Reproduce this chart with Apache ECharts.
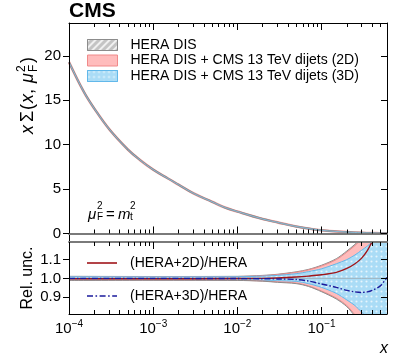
<!DOCTYPE html>
<html>
<head>
<meta charset="utf-8">
<script src="https://cdn.jsdelivr.net/npm/echarts@6/dist/echarts.min.js"></script>
<style>
  html, body { margin: 0; padding: 0; background: #fff; }
  #chart { width: 408px; height: 363px; }
</style>
</head>
<body>
<div id="chart"></div>
<script>
// top panel: x*Sigma(x, muF^2 = mt^2)
const xTop = [1e-4, 1.5e-4, 2e-4, 3e-4, 5e-4, 7e-4, 1e-3, 1.5e-3, 2e-3, 3e-3, 5e-3, 7e-3, 1e-2, 2e-2, 3e-2, 5e-2, 0.1, 0.2, 0.3, 0.45, 0.6]
const sigmaHera = [19.3, 15.95, 14.06, 11.75, 9.46, 8.26, 7.19, 6.19, 5.5, 4.53, 3.57, 2.95, 2.47, 1.63, 1.25, 0.79, 0.36, 0.16, 0.08, 0.04, 0.02]
const sigma2D = [19.3, 15.95, 14.06, 11.75, 9.46, 8.26, 7.19, 6.19, 5.5, 4.53, 3.57, 2.95, 2.47, 1.63, 1.25, 0.79, 0.36, 0.16, 0.08, 0.04, 0.02]
const sigma3D = [19.3, 15.95, 14.06, 11.75, 9.46, 8.26, 7.19, 6.19, 5.5, 4.53, 3.57, 2.95, 2.47, 1.63, 1.25, 0.79, 0.36, 0.16, 0.08, 0.04, 0.02]

// ratio panel
const xRatio = [1e-4, 1e-3, 0.01, 0.02, 0.03, 0.05, 0.07, 0.1, 0.15, 0.2, 0.25, 0.3, 0.35, 0.4, 0.5, 0.6]
const heraUp = [1.011, 1.010, 1.011, 1.016, 1.022, 1.035, 1.048, 1.070, 1.105, 1.146, 1.182, 1.218, 1.25, 1.29, 1.37, 1.47]
const heraDn = [0.989, 0.990, 0.989, 0.985, 0.979, 0.972, 0.957, 0.929, 0.890, 0.849, 0.798, 0.752, 0.71, 0.67, 0.59, 0.51]
const up2D = [1.010, 1.009, 1.010, 1.014, 1.020, 1.032, 1.045, 1.066, 1.100, 1.140, 1.175, 1.21, 1.24, 1.28, 1.36, 1.45]
const dn2D = [0.990, 0.991, 0.990, 0.986, 0.981, 0.975, 0.960, 0.933, 0.895, 0.855, 0.805, 0.76, 0.72, 0.68, 0.60, 0.52]
const up3D = [1.009, 1.008, 1.009, 1.012, 1.016, 1.025, 1.036, 1.051, 1.078, 1.100, 1.125, 1.150, 1.172, 1.195, 1.24, 1.28]
const dn3D = [0.991, 0.992, 0.991, 0.989, 0.987, 0.984, 0.972, 0.952, 0.920, 0.885, 0.855, 0.820, 0.79, 0.76, 0.70, 0.65]
const heraRatio = [1, 1, 1, 1, 1, 1, 1, 1, 1, 1, 1, 1, 1, 1, 1, 1]
const ratio2D = [0.998, 0.998, 0.999, 1.000, 1.002, 1.007, 1.012, 1.019, 1.032, 1.053, 1.078, 1.108, 1.148, 1.196, 1.27, 1.35]
const ratio3D = [1.000, 1.000, 0.999, 0.998, 0.997, 0.994, 0.986, 0.970, 0.952, 0.936, 0.928, 0.925, 0.928, 0.936, 0.960, 1.005]

const yTopTicks = [0, 5, 10, 15, 20]
const yRatioTicks = [0.9, 1.0, 1.1]
const xMajor = [1e-4, 1e-3, 1e-2, 1e-1]

const FONT = 'Liberation Sans, Arial, Helvetica, sans-serif'
const X_MIN = 1e-4
const X_MAX = 0.6

const xMinor = []
xMajor.forEach(d => {
  for (let k = 2; k <= 9; k++) {
    if (k * d <= X_MAX) xMinor.push(+(k * d).toPrecision(3))
  }
})

const names = {
  hera: 'HERA DIS',
  d2: 'HERA DIS + CMS 13 TeV dijets (2D)',
  d3: 'HERA DIS + CMS 13 TeV dijets (3D)',
  r2: '(HERA+2D)/HERA',
  r3: '(HERA+3D)/HERA'
}

const hatch = { symbol: 'rect', color: 'rgba(255,255,255,0.75)', dashArrayX: [1, 0], dashArrayY: [2, 3], rotation: -Math.PI / 4 }
const dots = { symbol: 'circle', symbolSize: 0.7, color: 'rgba(255,255,255,0.7)', dashArrayX: [3, 2], dashArrayY: [3, 2] }
const style = {
  hera: { fill: '#c4c4c4', edge: '#8c8c8c', decal: hatch },
  d2: { fill: '#ffbcbc', edge: '#f08a8a', decal: null },
  d3: { fill: '#aadcf6', edge: '#62b8ea', decal: dots },
  white: { fill: '#ffffff', decal: null }
}

const zip = (xs, ys) => xs.map((x, i) => [x, ys[i]])

function xAxis (grid, pos, ticks, len, line, labels) {
  return {
    type: 'log',
    logBase: 10,
    min: X_MIN,
    max: X_MAX,
    gridIndex: grid,
    position: pos,
    z: 5,
    axisLine: { show: !!line, lineStyle: line || {} },
    axisTick: { show: true, inside: true, length: len, customValues: ticks, lineStyle: { color: '#000', width: 1 } },
    axisLabel: labels ? {
      show: true,
      customValues: xMajor,
      margin: 5,
      formatter: v => '{b|10}{s|\u2212' + Math.round(-Math.log10(v)) + '}',
      rich: {
        b: { fontSize: 15, fontFamily: FONT, color: '#000' },
        s: { fontSize: 10, fontFamily: FONT, color: '#000', verticalAlign: 'bottom', padding: [0, 0, 9, 0] }
      }
    } : { show: false },
    splitLine: { show: false }
  }
}

function yAxis (grid, pos, min, max, ticks, labels) {
  return {
    type: 'value',
    gridIndex: grid,
    position: pos,
    min,
    max,
    z: 5,
    axisLine: { show: true, lineStyle: { color: '#000', width: 1 } },
    axisTick: { show: true, inside: pos === 'right', length: 6, customValues: ticks, lineStyle: { color: '#000' } },
    axisLabel: labels ? {
      show: true,
      customValues: ticks,
      margin: 8,
      fontSize: 15,
      fontFamily: FONT,
      color: '#000',
      formatter: labels
    } : { show: false },
    splitLine: { show: false }
  }
}

const sep = { color: '#7a7a7a', width: 2 }
const frame = { color: '#000', width: 1 }

// each band edge is filled down to the axis bottom; nested bands are layered
// from the outside in, the lower edges then paint the next outer fill back
function edge (name, ys, fillKey, edgeColor) {
  const f = style[fillKey]
  return {
    name, type: 'line', xAxisIndex: 6, yAxisIndex: 2, silent: true,
    data: zip(xRatio, ys), symbol: 'none', smooth: 0.3,
    lineStyle: { color: edgeColor, width: 1 },
    itemStyle: { color: f.fill, decal: f.decal || undefined },
    areaStyle: { color: f.fill, opacity: 1, origin: 'start' }
  }
}

function legendItem (key) {
  const s = style[key]
  return { name: names[key], icon: 'rect', itemStyle: { color: s.fill, borderColor: s.edge, borderWidth: 1, decal: s.decal || undefined } }
}

const lineIcon = 'path://M0,0h30v1.6h-30z'
const dashDotIcon = 'path://M0,0h6v1.6h-6z M8.5,0h1.6v1.6h-1.6z M12.6,0h6v1.6h-6z M21.1,0h1.6v1.6h-1.6z M25.2,0h4.8v1.6h-4.8z'

const option = {
  animation: false,
  backgroundColor: '#fff',
  grid: [
    { left: 69, right: 21, top: 23, height: 219 },
    { left: 69, right: 21, top: 242, height: 72 }
  ],
  xAxis: [
    xAxis(0, 'bottom', xMajor, 7, sep),
    xAxis(0, 'bottom', xMinor, 4, null),
    xAxis(0, 'top', xMajor, 7, frame),
    xAxis(0, 'top', xMinor, 4, null),
    xAxis(1, 'top', xMajor, 7, sep),
    xAxis(1, 'top', xMinor, 4, null),
    xAxis(1, 'bottom', xMajor, 7, frame, true),
    xAxis(1, 'bottom', xMinor, 4, null)
  ],
  yAxis: [
    yAxis(0, 'left', -0.96, 23.7, yTopTicks, v => String(v)),
    yAxis(0, 'right', -0.96, 23.7, yTopTicks, null),
    yAxis(1, 'left', 0.81, 1.194, yRatioTicks, v => v.toFixed(1)),
    yAxis(1, 'right', 0.81, 1.194, yRatioTicks, null)
  ],
  legend: [
    {
      left: 82, top: 33, orient: 'vertical', itemWidth: 30, itemHeight: 11, itemGap: 1.5,
      selectedMode: false,
      textStyle: { fontSize: 14, fontFamily: FONT, color: '#000', padding: [0, 0, 0, 8] },
      data: [legendItem('hera'), legendItem('d2'), legendItem('d3')]
    },
    {
      left: 82, top: 251, orient: 'vertical', itemWidth: 30, itemHeight: 1.6, itemGap: 19,
      selectedMode: false,
      textStyle: { fontSize: 14, fontFamily: FONT, color: '#000', padding: [0, 0, 0, 8] },
      data: [
        { name: names.r2, icon: lineIcon, itemStyle: { color: '#a0151a' } },
        { name: names.r3, icon: dashDotIcon, itemStyle: { color: '#1a1a9c' } }
      ]
    }
  ],
  series: [
    { name: names.d2, type: 'line', xAxisIndex: 0, yAxisIndex: 0, data: zip(xTop, sigma2D), symbol: 'none', smooth: 0.4, lineStyle: { color: '#f4a0a0', width: 2.6 }, silent: true },
    { name: names.hera, type: 'line', xAxisIndex: 0, yAxisIndex: 0, data: zip(xTop, sigmaHera), symbol: 'none', smooth: 0.4, lineStyle: { color: '#858585', width: 1.9 }, silent: true },
    { name: names.d3, type: 'line', xAxisIndex: 0, yAxisIndex: 0, data: zip(xTop, sigma3D), symbol: 'none', smooth: 0.4, lineStyle: { color: '#8cc6ea', width: 0.8 }, silent: true },
    edge(names.hera, heraUp, 'hera', style.hera.edge),
    edge(names.d2, up2D, 'd2', style.d2.edge),
    edge(names.d3, up3D, 'd3', style.d3.edge),
    edge(undefined, dn3D, 'd2', style.d3.edge),
    edge(undefined, dn2D, 'hera', style.d2.edge),
    edge(undefined, heraDn, 'white', style.hera.edge),
    { type: 'line', xAxisIndex: 6, yAxisIndex: 2, data: zip(xRatio, heraRatio), symbol: 'none', lineStyle: { color: '#9a9a9a', width: 0.6 }, silent: true },
    { name: names.r2, type: 'line', xAxisIndex: 6, yAxisIndex: 2, data: zip(xRatio, ratio2D), symbol: 'none', smooth: 0.3, lineStyle: { color: '#a0151a', width: 1.4 }, itemStyle: { color: '#a0151a' }, silent: true },
    { name: names.r3, type: 'line', xAxisIndex: 6, yAxisIndex: 2, data: zip(xRatio, ratio3D), symbol: 'none', smooth: 0.3, lineStyle: { color: '#1a1a9c', width: 1.4, type: [6, 2, 1.5, 2] }, itemStyle: { color: '#1a1a9c' }, silent: true }
  ],
  graphic: [
    { type: 'text', left: 69, top: 1, style: { text: 'CMS', font: 'bold 21px ' + FONT, fill: '#000' } },
    {
      type: 'group', x: 37, y: 134, rotation: Math.PI / 2,
      children: [
        { type: 'text', x: 0, y: 0, style: { text: 'x', font: 'italic 18px ' + FONT, fill: '#000', textVerticalAlign: 'bottom' } },
        { type: 'text', x: 12, y: 0, style: { text: '\u03a3', font: '18px ' + FONT, fill: '#000', textVerticalAlign: 'bottom' } },
        { type: 'text', x: 24, y: 0, style: { text: '(', font: '18px ' + FONT, fill: '#000', textVerticalAlign: 'bottom' } },
        { type: 'text', x: 31, y: 0, style: { text: 'x', font: 'italic 18px ' + FONT, fill: '#000', textVerticalAlign: 'bottom' } },
        { type: 'text', x: 40, y: 0, style: { text: ',', font: '18px ' + FONT, fill: '#000', textVerticalAlign: 'bottom' } },
        { type: 'text', x: 51, y: 0, style: { text: '\u03bc', font: 'italic 18px ' + FONT, fill: '#000', textVerticalAlign: 'bottom' } },
        { type: 'text', x: 62, y: -9, style: { text: '2', font: '12px ' + FONT, fill: '#000', textVerticalAlign: 'bottom' } },
        { type: 'text', x: 62, y: 3, style: { text: 'F', font: '12px ' + FONT, fill: '#000', textVerticalAlign: 'bottom' } },
        { type: 'text', x: 71, y: 0, style: { text: ')', font: '18px ' + FONT, fill: '#000', textVerticalAlign: 'bottom' } }
      ]
    },
    {
      type: 'text', x: 36, y: 278, rotation: Math.PI / 2,
      style: { text: 'Rel. unc.', font: '16px ' + FONT, fill: '#000', textAlign: 'center', textVerticalAlign: 'bottom' }
    },
    { type: 'text', x: 88, y: 222, style: { text: '\u03bc', font: 'italic 15px ' + FONT, fill: '#000', textVerticalAlign: 'bottom' } },
    { type: 'text', x: 97, y: 211, style: { text: '2', font: '10px ' + FONT, fill: '#000', textVerticalAlign: 'bottom' } },
    { type: 'text', x: 97, y: 222, style: { text: 'F', font: '10px ' + FONT, fill: '#000', textVerticalAlign: 'bottom' } },
    { type: 'text', x: 106, y: 222, style: { text: '=', font: '15px ' + FONT, fill: '#000', textVerticalAlign: 'bottom' } },
    { type: 'text', x: 118, y: 222, style: { text: 'm', font: 'italic 15px ' + FONT, fill: '#000', textVerticalAlign: 'bottom' } },
    { type: 'text', x: 130, y: 211, style: { text: '2', font: '10px ' + FONT, fill: '#000', textVerticalAlign: 'bottom' } },
    { type: 'text', x: 130, y: 222, style: { text: 't', font: '10px ' + FONT, fill: '#000', textVerticalAlign: 'bottom' } },
    { type: 'text', x: 388, y: 357, style: { text: 'x', font: 'italic 16px ' + FONT, fill: '#000', textAlign: 'right', textVerticalAlign: 'bottom' } }
  ]
}

const chart = echarts.init(document.getElementById('chart'))
chart.setOption(option)
</script>
</body>
</html>
